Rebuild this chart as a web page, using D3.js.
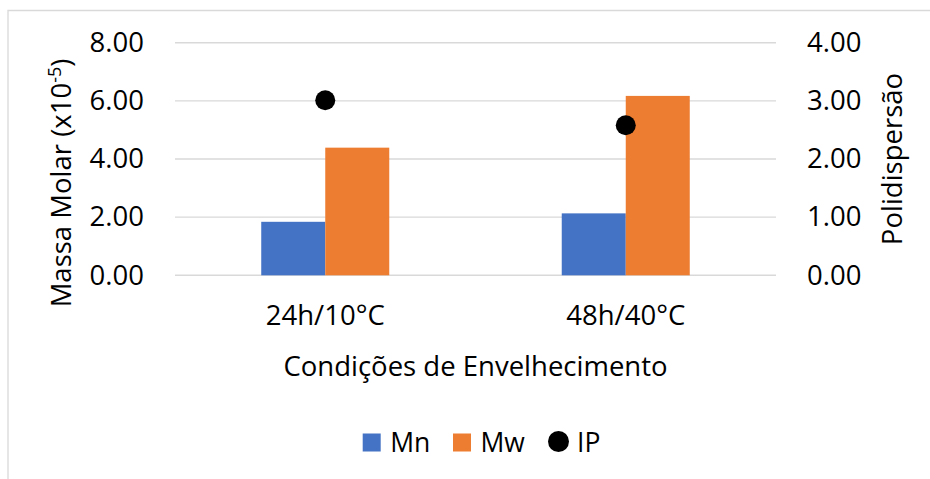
<!DOCTYPE html>
<html>
<head>
<meta charset="utf-8">
<script src="https://cdn.jsdelivr.net/npm/d3@7"></script>
<style>
  html, body { margin: 0; padding: 0; background: #fff; }
  svg { display: block; }
  text { font-family: "Open Sans", "Noto Sans", sans-serif; fill: #000; }
</style>
</head>
<body>
<svg id="chart" width="930" height="479"></svg>
<script>
// Aging conditions and measured molar masses (x10^-5) and polydispersity
const categories = ["24h/10°C", "48h/40°C"];
const seriesNames = ["Mn", "Mw"];
const mnValues = [1.84, 2.13];
const mwValues = [4.39, 6.17];
const ipValues = [3.01, 2.58];
const leftTicks = [0, 2, 4, 6, 8];
const rightTicks = [0, 1, 2, 3, 4];
const colors = { Mn: "#4472C4", Mw: "#ED7D31", IP: "#000000" };

const svg = d3.select("#chart");
const W = 930, H = 479;
const plot = { left: 175, right: 776, top: 42.7, bottom: 275.3 };

// Frame lines (top and left edges of the chart area)
svg.append("path")
  .attr("d", `M8,${H} L8,10.5 L${W},10.5`)
  .attr("fill", "none").attr("stroke", "#d9d9d9").attr("stroke-width", 1.3);

const x0 = d3.scaleBand().domain(categories)
  .range([plot.left, plot.right]).paddingInner(0.574).paddingOuter(0.287);
const x1 = d3.scaleBand().domain(seriesNames).range([0, x0.bandwidth()]);
const yL = d3.scaleLinear().domain([0, 8]).range([plot.bottom, plot.top]);
const yR = d3.scaleLinear().domain([0, 4]).range([plot.bottom, plot.top]);

// Gridlines
svg.append("g").selectAll("line").data(leftTicks).join("line")
  .attr("x1", plot.left).attr("x2", plot.right)
  .attr("y1", d => yL(d)).attr("y2", d => yL(d))
  .attr("stroke", "#d9d9d9").attr("stroke-width", 1.4);

// Left axis
const leftAxis = svg.append("g").attr("transform", `translate(${plot.left},0)`)
  .call(d3.axisLeft(yL).tickValues(leftTicks).tickFormat(d3.format(".2f")).tickSize(0).tickPadding(31));
leftAxis.select(".domain").remove();
leftAxis.selectAll("text").attr("font-size", 27.5).attr("font-family", null).attr("fill", "#000");

// Right axis
const rightAxis = svg.append("g").attr("transform", `translate(${plot.right},0)`)
  .call(d3.axisRight(yR).tickValues(rightTicks).tickFormat(d3.format(".2f")).tickSize(0).tickPadding(31));
rightAxis.select(".domain").remove();
rightAxis.selectAll("text").attr("font-size", 27.5).attr("font-family", null).attr("fill", "#000");

// Category axis
const bottomAxis = svg.append("g").attr("transform", `translate(0,${plot.bottom})`)
  .call(d3.axisBottom(x0).tickSize(0).tickPadding(30));
bottomAxis.select(".domain").remove();
bottomAxis.selectAll("text").attr("font-size", 27.5).attr("font-family", null).attr("fill", "#000");

// Bars
const rows = categories.map((c, i) => ({ cat: c, Mn: mnValues[i], Mw: mwValues[i] }));
svg.append("g").selectAll("g").data(rows).join("g")
  .attr("transform", d => `translate(${x0(d.cat)},0)`)
  .selectAll("rect").data(d => seriesNames.map(k => ({ key: k, value: d[k] }))).join("rect")
  .attr("x", d => x1(d.key)).attr("width", x1.bandwidth())
  .attr("y", d => yL(d.value)).attr("height", d => yL(0) - yL(d.value))
  .attr("fill", d => colors[d.key]);

// Polydispersity markers
svg.append("g").selectAll("circle").data(categories).join("circle")
  .attr("cx", d => x0(d) + x0.bandwidth() / 2)
  .attr("cy", (d, i) => yR(ipValues[i]))
  .attr("r", 10).attr("fill", colors.IP);

// Axis titles
const lt = svg.append("text").attr("font-size", 27.5).attr("text-anchor", "middle")
  .attr("transform", "translate(71,183) rotate(-90)");
lt.append("tspan").text("Massa Molar (x10");
lt.append("tspan").attr("font-size", 18).attr("dy", -10).text("-5");
lt.append("tspan").attr("dy", 10).text(")");

svg.append("text").attr("font-size", 27.5).attr("text-anchor", "middle")
  .attr("transform", "translate(902,159) rotate(-90)").text("Polidispersão");

svg.append("text").attr("font-size", 27.5).attr("text-anchor", "middle")
  .attr("x", (plot.left + plot.right) / 2).attr("y", 376).text("Condições de Envelhecimento");

// Legend
const legend = svg.append("g");
const legendItems = [
  { name: "Mn", shape: "rect", x: 362.7 },
  { name: "Mw", shape: "rect", x: 453 },
  { name: "IP", shape: "circle", x: 548 }
];
legendItems.forEach(it => {
  if (it.shape === "rect") {
    legend.append("rect").attr("x", it.x).attr("y", 433.5).attr("width", 18).attr("height", 18)
      .attr("fill", colors[it.name]);
  } else {
    legend.append("circle").attr("cx", it.x + 10.5).attr("cy", 441.5).attr("r", 10.5)
      .attr("fill", colors[it.name]);
  }
  legend.append("text").attr("x", it.x + (it.shape === "rect" ? 27.5 : 29)).attr("y", 451.5)
    .attr("font-size", 26.5).text(it.name);
});
</script>
</body>
</html>
